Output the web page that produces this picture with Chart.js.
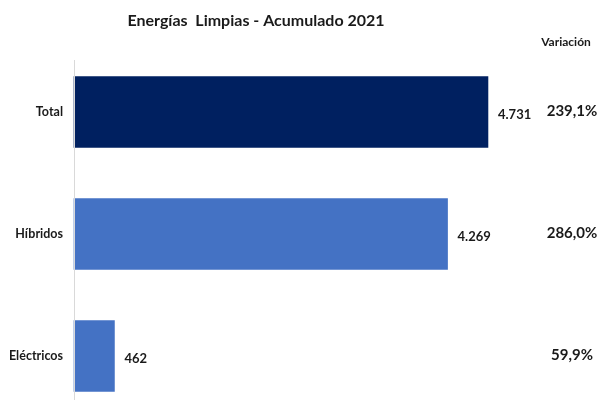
<!DOCTYPE html>
<html>
<head>
<meta charset="utf-8">
<script src="https://cdn.jsdelivr.net/npm/chart.js@4"></script>
<style>
  html, body { margin:0; padding:0; background:#fff; }
  canvas { display:block; }
</style>
</head>
<body>
<canvas id="chart" width="600" height="405"></canvas>
<script>
const categories = ['Total', 'Híbridos', 'Eléctricos'];
const unidades = [4731, 4269, 462];
const variacion = ['239,1%', '286,0%', '59,9%'];
const barColors = ['#002060', '#4472C4', '#4472C4'];

const FONT = "Lato, 'Liberation Sans', sans-serif";

// thousands with a dot, like the source
function fmt(v){ return String(v).replace(/\B(?=(\d{3})+(?!\d))/g, '.'); }

const overlay = {
  id: 'overlay',
  afterDraw(chart){
    const ctx = chart.ctx;
    const meta = chart.getDatasetMeta(0);
    ctx.save();

    // vertical axis line
    ctx.strokeStyle = '#d9d9d9';
    ctx.lineWidth = 1;
    ctx.beginPath();
    ctx.moveTo(74.5, 60);
    ctx.lineTo(74.5, 400);
    ctx.stroke();

    ctx.fillStyle = '#1a1a1a';
    ctx.textBaseline = 'middle';

    // title
    ctx.font = 'bold 16px ' + FONT;
    ctx.textAlign = 'center';
    ctx.fillText('Energías  Limpias - Acumulado 2021', 256, 21);

    // column header
    ctx.font = 'bold 12px ' + FONT;
    ctx.fillText('Variación', 566, 42);

    meta.data.forEach((bar, i)=>{
      ctx.font = 'bold 13px ' + FONT;
      ctx.textAlign = 'left';
      ctx.fillText(fmt(unidades[i]), bar.x + 10, bar.y + 3);

      ctx.font = 'bold 15px ' + FONT;
      ctx.textAlign = 'center';
      ctx.fillText(variacion[i], 572, bar.y - 1);
    });
    ctx.restore();
  }
};

new Chart(document.getElementById('chart'), {
  type: 'bar',
  data: {
    labels: categories,
    datasets: [{
      data: unidades,
      backgroundColor: barColors,
      barThickness: 71,
      clip: false
    }]
  },
  options: {
    indexAxis: 'y',
    responsive: false,
    animation: false,
    devicePixelRatio: 1,
    layout: { padding: { top: 112, bottom: 49, right: 88.5, left: 0 } },
    plugins: { legend: { display: false }, tooltip: { enabled: false } },
    scales: {
      x: { display: false, min: 0, max: 5000 },
      y: {
        offset: false,
        grid: { display: false },
        border: { display: false },
        ticks: { color: '#1a1a1a', padding: 3, font: { family: FONT, weight: 'bold', size: 12.5 } },
        afterFit(scale){ scale.width = 74; }
      }
    }
  },
  plugins: [overlay]
});
</script>
</body>
</html>
